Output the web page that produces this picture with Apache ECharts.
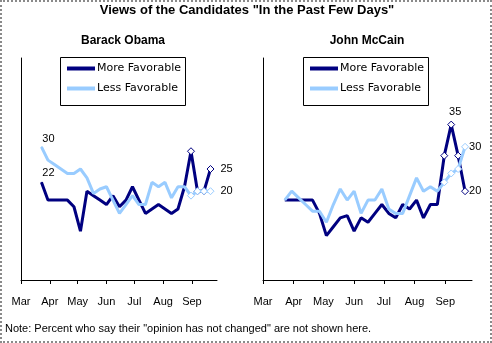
<!DOCTYPE html>
<html><head><meta charset="utf-8">
<script src="https://cdn.jsdelivr.net/npm/echarts@6/dist/echarts.min.js"></script>
<style>
html,body{margin:0;padding:0;background:#fff}
#c{position:absolute;left:0;top:0;width:492px;height:343px}
#b{position:absolute;left:0;top:0;width:492px;height:343px;box-sizing:border-box;border:2px dotted #8a8a8a;pointer-events:none}
</style></head><body><div id="c"></div><div id="b"></div>
<script>
const dates = ['2008-03-23','2008-03-30','2008-04-06','2008-04-13','2008-04-20','2008-04-27','2008-05-04','2008-05-11','2008-05-18','2008-05-25','2008-06-01','2008-06-08','2008-06-15','2008-06-22','2008-06-29','2008-07-06','2008-07-13','2008-07-20','2008-07-27','2008-08-03','2008-08-10','2008-08-17','2008-08-24','2008-08-31','2008-09-07','2008-09-14','2008-09-21'];
const monthTicks = ['2008-03-01','2008-04-01','2008-05-01','2008-06-01','2008-07-01','2008-08-01','2008-09-01'];
const monthLabels = ['Mar','Apr','May','Jun','Jul','Aug','Sep'];
const axisStart = '2008-03-01';
const axisEnd = '2008-09-28';
const obamaMore = [22,18,18,18,18,16.5,11,20,19,18,17,19,16.5,18,21,18,15,16,17,16,15,16,21,29,20,20,25];
const obamaLess = [30,27,26,25,24,24,25,23,19.5,20.5,21,18,15,17,19,17,17,22,21,22,18.5,21,21,19,20,20,20];
const mccainMore = [18,18,18,18,18,15,10,12,14,14.5,11,14,13,15,17,15,14,17,16,18,14,17,17,28,35,28,20];
const mccainLess = [18,20,18.5,17,15.5,15.5,13,17,20.5,18,20,15,18,18,20.5,16,15,15,19,23,20,21,20,22,24,25,30];
const seriesNames = ['More Favorable','Less Favorable'];
const panelTitles = ['Barack Obama','John McCain'];
const mainTitle = 'Views of the Candidates "In the Past Few Days"';
const note = 'Note: Percent who say their "opinion has not changed" are not shown here.';

const DARK = '#000080', LIGHT = '#99ccff';
const MARK_FROM = 23;
function day(s){const p=s.split('-');const q=axisStart.split('-');
  return Math.round((Date.UTC(+p[0],+p[1]-1,+p[2]) - Date.UTC(+q[0],+q[1]-1,+q[2]))/86400000);}
const tickVals = monthTicks.map(day);
const lblStyle = {color:'#000', fontSize:11, fontFamily:'Liberation Sans'};

function mk(name, idx, vals, color, labels, z){
  return {
    type:'line', name, xAxisIndex:idx, yAxisIndex:idx, z,
    symbol:'diamond', symbolSize:7, showSymbol:true, animation:false, silent:true,
    lineStyle:{color, width:3}, itemStyle:{color},
    emphasis:{disabled:true},
    data: vals.map((v,i)=>{
      const it = {value:[day(dates[i]), v]};
      if (i >= MARK_FROM) {
        it.symbol='diamond'; it.itemStyle={color:'#fff', borderColor:color, borderWidth:1};
      } else if (labels[i]) {
        it.symbol='circle'; it.symbolSize=1;
      } else {
        it.symbol='none';
      }
      if (labels[i]) it.label = Object.assign({show:true, formatter:p=>String(p.value[1])}, lblStyle, labels[i]);
      return it;
    })
  };
}

function xAx(idx){
  return {type:'value', gridIndex:idx, min:day(axisStart), max:day(axisEnd),
    axisLine:{show:true, onZero:false, lineStyle:{color:'#000', width:1}},
    axisTick:{show:true, customValues:tickVals, length:4, lineStyle:{color:'#000'}},
    axisLabel:{customValues:tickVals, margin:16, color:'#000', fontSize:11, fontFamily:'Liberation Sans',
      formatter:v=>monthLabels[tickVals.indexOf(v)] || ''},
    splitLine:{show:false}};
}
function yAx(idx){
  return {type:'value', gridIndex:idx, min:0, max:50,
    axisLine:{show:true, onZero:false, lineStyle:{color:'#000', width:1}},
    axisTick:{show:false}, axisLabel:{show:false}, splitLine:{show:false}};
}
function lg(left){
  return {left, top:63, orient:'vertical', itemWidth:28, itemHeight:4, itemGap:9, icon:'rect', padding:0,
    selectedMode:false,
    textStyle:{fontSize:11, fontFamily:'DejaVu Sans', color:'#000', padding:[0,0,0,-3]},
    data:[{name:seriesNames[0], itemStyle:{color:DARK}},{name:seriesNames[1], itemStyle:{color:LIGHT}}]};
}

const chart = echarts.init(document.getElementById('c'), null, {renderer:'canvas'});
chart.setOption({
  animation:false,
  backgroundColor:'#fff',
  title:[
    {text:mainTitle, left:247, top:4, textAlign:'center', padding:0, textStyle:{fontSize:13, fontWeight:'bold', fontFamily:'Liberation Sans', color:'#000'}},
    {text:panelTitles[0], left:123, top:35, textAlign:'center', padding:0, textStyle:{fontSize:12, fontWeight:'bold', fontFamily:'Liberation Sans', color:'#000'}},
    {text:panelTitles[1], left:367, top:35, textAlign:'center', padding:0, textStyle:{fontSize:12, fontWeight:'bold', fontFamily:'Liberation Sans', color:'#000'}},
    {text:note, left:5, top:323, padding:0, textStyle:{fontSize:11, fontWeight:'normal', fontFamily:'Liberation Sans', color:'#000'}}
  ],
  graphic:[
    {type:'rect', z:3, shape:{x:60.5, y:57.5, width:125, height:48}, style:{fill:'#fff', stroke:'#000', lineWidth:1}},
    {type:'rect', z:3, shape:{x:303.5, y:57.5, width:125, height:48}, style:{fill:'#fff', stroke:'#000', lineWidth:1}}
  ],
  legend:[lg(67), lg(310)],
  grid:[
    {left:21, top:58, width:196, height:222},
    {left:263, top:58, width:209, height:222}
  ],
  xAxis:[xAx(0), xAx(1)],
  yAxis:[yAx(0), yAx(1)],
  series:[
    mk(seriesNames[0], 0, obamaMore, DARK, {0:{position:'top', distance:3, offset:[7,0]}, 26:{position:'right', distance:6}}, 2),
    mk(seriesNames[1], 0, obamaLess, LIGHT, {0:{position:'top', distance:2, offset:[7,0]}, 26:{position:'right', distance:6}}, 3),
    mk(seriesNames[0], 1, mccainMore, DARK, {24:{position:'top', distance:3, offset:[4,0]}, 26:{position:'right', distance:0}}, 2),
    mk(seriesNames[1], 1, mccainLess, LIGHT, {26:{position:'right', distance:0}}, 3)
  ]
});
</script></body></html>
